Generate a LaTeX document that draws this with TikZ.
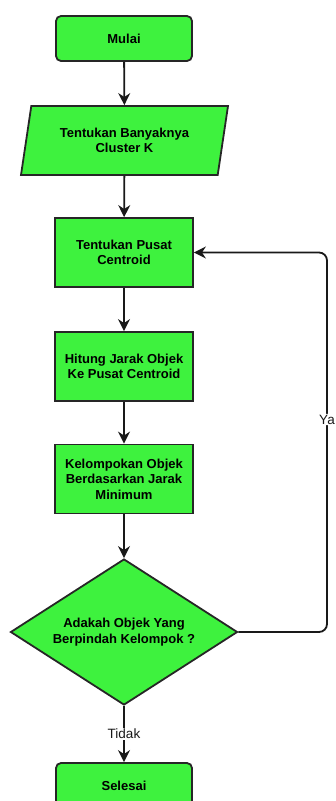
\documentclass[tikz,border=0pt]{standalone}
\usepackage{fontspec}
\setsansfont{Liberation Sans}
\usetikzlibrary{shapes.geometric,arrows.meta}
\definecolor{hijau}{RGB}{62,242,62}
\tikzset{
  kotak/.style={draw=black!85,line width=1.8pt,fill=hijau,minimum width=138pt,minimum height=69pt,align=center,font=\sffamily\bfseries\fontsize{13}{15.5}\selectfont},
  terminal/.style={kotak,rounded corners=5pt,minimum width=136pt,minimum height=45pt},
  masukan/.style={kotak,trapezium,trapezium left angle=72,trapezium right angle=108,trapezium stretches body,minimum width=207pt},
  keputusan/.style={kotak,diamond,aspect=1.55,minimum width=227pt,minimum height=146pt,inner sep=0pt},
  panah/.style={-{Stealth[length=12pt,width=12pt]},line width=1.8pt,black!90},
  ket/.style={fill=white,inner sep=1pt,font=\sffamily\fontsize{13.5}{15}\selectfont}
}
\begin{document}
\begin{tikzpicture}[x=1pt,y=-1pt]
\useasboundingbox (0,0) rectangle (335,801);
\node[terminal] (mulai) at (124,38.5) {Mulai};
\node[masukan] (banyak) at (124.5,140.5) {Tentukan Banyaknya\\Cluster K};
\node[kotak] (centroid) at (124,252.5) {Tentukan Pusat\\Centroid};
\node[kotak] (hitung) at (124,366.5) {Hitung Jarak Objek\\Ke Pusat Centroid};
\node[kotak] (kelompok) at (124,479) {Kelompokan Objek\\Berdasarkan Jarak\\Minimum};
\node[keputusan] (cek) at (124,632) {Adakah Objek Yang\\Berpindah Kelompok ?};
\node[terminal] (selesai) at (124,785.5) {Selesai};
\draw[panah] (mulai) -- (banyak);
\draw[panah] (banyak) -- (centroid);
\draw[panah] (centroid) -- (hitung);
\draw[panah] (hitung) -- (kelompok);
\draw[panah] (kelompok) -- (cek);
\coordinate (belok) at (327,632);
\draw[panah,rounded corners=8pt] (cek.east) -- (belok) |- (centroid.east) node[pos=0.28,ket] {Ya};
\draw[panah] (cek) -- node[ket] {Tidak} (selesai);
\end{tikzpicture}
\end{document}
